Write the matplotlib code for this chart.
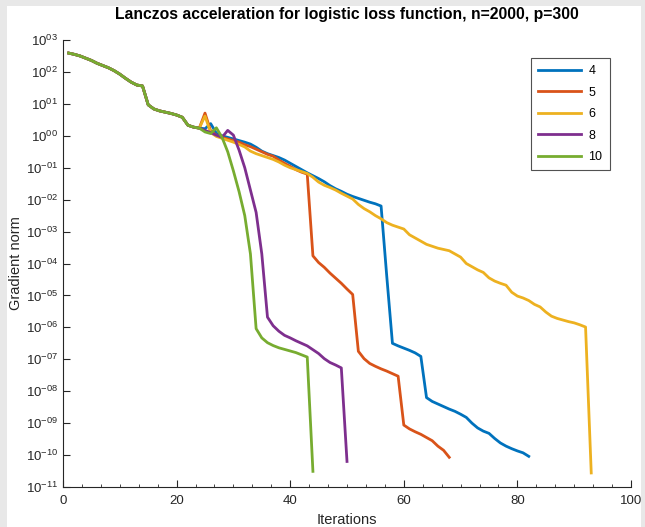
import numpy as np
import matplotlib
matplotlib.use("Agg")
import matplotlib.pyplot as plt
from matplotlib.ticker import FixedLocator, FuncFormatter, MultipleLocator
from matplotlib.patches import Rectangle

plt.rcParams['font.family'] = ['Liberation Sans', 'DejaVu Sans']
plt.rcParams['mathtext.fontset'] = 'custom'
plt.rcParams['mathtext.rm'] = 'Liberation Sans'
plt.rcParams['mathtext.it'] = 'Liberation Sans:italic'
plt.rcParams['mathtext.bf'] = 'Liberation Sans:bold'

# log10 of the gradient norm, shared start of every run (iterations 1..24)
common_log = [2.59, 2.55, 2.50, 2.43, 2.36, 2.27, 2.20, 2.13, 2.04, 1.93,
              1.80, 1.68, 1.59, 1.56, 0.97, 0.84, 0.78, 0.74, 0.70, 0.65,
              0.58, 0.33, 0.27, 0.24]

# continuation from iteration 25 on, per Lanczos depth
tail_4 = [0.22, 0.38, 0.08, 0.00, -0.05, -0.10, -0.15, -0.20, -0.26, -0.36,
          -0.48, -0.56, -0.62, -0.68, -0.76, -0.86, -0.96, -1.06, -1.16, -1.25,
          -1.34, -1.44, -1.56, -1.66, -1.74, -1.83, -1.90, -1.96, -2.02, -2.08,
          -2.13, -2.20, -4.40, -6.50, -6.58, -6.65, -6.72, -6.80, -6.91, -8.20,
          -8.32, -8.40, -8.48, -8.56, -8.63, -8.72, -8.82, -9.00, -9.15, -9.25,
          -9.32, -9.48, -9.62, -9.72, -9.80, -9.87, -9.93, -10.04]
tail_5 = [0.71, 0.15, 0.02, -0.05, -0.10, -0.15, -0.20, -0.28, -0.34, -0.42,
          -0.50, -0.58, -0.64, -0.76, -0.86, -0.96, -1.06, -1.14, -1.20, -3.76,
          -3.97, -4.12, -4.30, -4.46, -4.62, -4.80, -4.97, -6.75, -6.98, -7.13,
          -7.22, -7.30, -7.37, -7.45, -7.53, -9.06, -9.18, -9.27, -9.35, -9.45,
          -9.55, -9.72, -9.85, -10.07]
tail_6 = [0.62, 0.10, -0.02, -0.08, -0.14, -0.20, -0.27, -0.35, -0.48, -0.56,
          -0.62, -0.68, -0.74, -0.82, -0.92, -1.00, -1.06, -1.12, -1.18, -1.30,
          -1.45, -1.55, -1.62, -1.70, -1.80, -1.89, -1.98, -2.15, -2.28, -2.38,
          -2.50, -2.60, -2.72, -2.80, -2.86, -2.92, -3.10, -3.20, -3.30, -3.40,
          -3.46, -3.52, -3.56, -3.60, -3.70, -3.80, -4.00, -4.10, -4.20, -4.28,
          -4.45, -4.55, -4.62, -4.68, -4.90, -5.02, -5.08, -5.16, -5.28, -5.36,
          -5.52, -5.65, -5.72, -5.77, -5.82, -5.86, -5.92, -5.99, -10.56]
tail_8 = [0.17, 0.10, 0.02, -0.05, 0.17, 0.02, -0.45, -1.00, -1.70, -2.40,
          -3.70, -5.68, -5.95, -6.12, -6.25, -6.33, -6.42, -6.50, -6.58, -6.70,
          -6.82, -6.98, -7.10, -7.18, -7.27, -10.20]
tail_10 = [0.12, 0.07, 0.25, -0.05, -0.50, -1.10, -1.75, -2.50, -3.70, -6.04,
           -6.33, -6.48, -6.57, -6.64, -6.69, -6.74, -6.79, -6.86, -6.93, -10.51]

labels = ['4', '5', '6', '8', '10']
tails = [tail_4, tail_5, tail_6, tail_8, tail_10]
colors = ['#0072BD', '#D95319', '#EDB120', '#7E2F8E', '#77AC30']

fig = plt.figure(figsize=(6.45, 5.27), dpi=100, facecolor='#e8e8e8')
fig.patches.append(Rectangle((7 / 645, 0), 634 / 645, 521 / 527,
                             transform=fig.transFigure, facecolor='white',
                             edgecolor='none', zorder=-1))
ax = fig.add_axes([63 / 645, 40 / 527, 568 / 645, 447 / 527])
ax.set_facecolor('white')

for lab, tail, col in zip(labels, tails, colors):
    logs = np.array(common_log + tail)
    its = np.arange(1, len(logs) + 1)
    ax.semilogy(its, 10.0 ** logs, color=col, lw=2.0, label=lab)

ax.set_xlim(0, 100)
ax.set_ylim(1e-11, 1e3)
ax.xaxis.set_major_locator(MultipleLocator(20))
ax.xaxis.set_minor_locator(MultipleLocator(10 / 3))
decades = np.arange(-11, 4)
ax.yaxis.set_major_locator(FixedLocator(10.0 ** decades))
ax.yaxis.set_minor_locator(FixedLocator([]))


def decade_label(v, pos):
    e = int(round(np.log10(v)))
    return r'$10^{%s}$' % ('%03d' % e if e < 0 else '%02d' % e)


ax.yaxis.set_major_formatter(FuncFormatter(decade_label))

for side in ['top', 'right']:
    ax.spines[side].set_visible(False)
for side in ['left', 'bottom']:
    ax.spines[side].set_color('#262626')
    ax.spines[side].set_linewidth(0.8)
ax.tick_params(which='major', direction='in', length=5, width=0.8,
               colors='#262626', labelsize=9.5)
ax.tick_params(which='minor', direction='in', length=2.5, width=0.6,
               colors='#262626')
ax.tick_params(axis='x', pad=6)

ax.set_xlabel('Iterations', fontsize=10.5, color='#262626', labelpad=4)
ax.set_ylabel('Gradient norm', fontsize=10.5, color='#262626', labelpad=2)
ax.set_title('Lanczos acceleration for logistic loss function, n=2000, p=300',
             fontsize=11.3, fontweight='bold', pad=15)

leg = ax.legend(loc='upper right', bbox_to_anchor=(0.963, 0.96),
                borderaxespad=0, fontsize=9, frameon=True, fancybox=False,
                handlelength=3.4, labelspacing=0.75, borderpad=0.6,
                handletextpad=0.6)
leg.get_frame().set_edgecolor('#262626')
leg.get_frame().set_linewidth(0.8)

fig.savefig('out.png', dpi=100, facecolor=fig.get_facecolor())
